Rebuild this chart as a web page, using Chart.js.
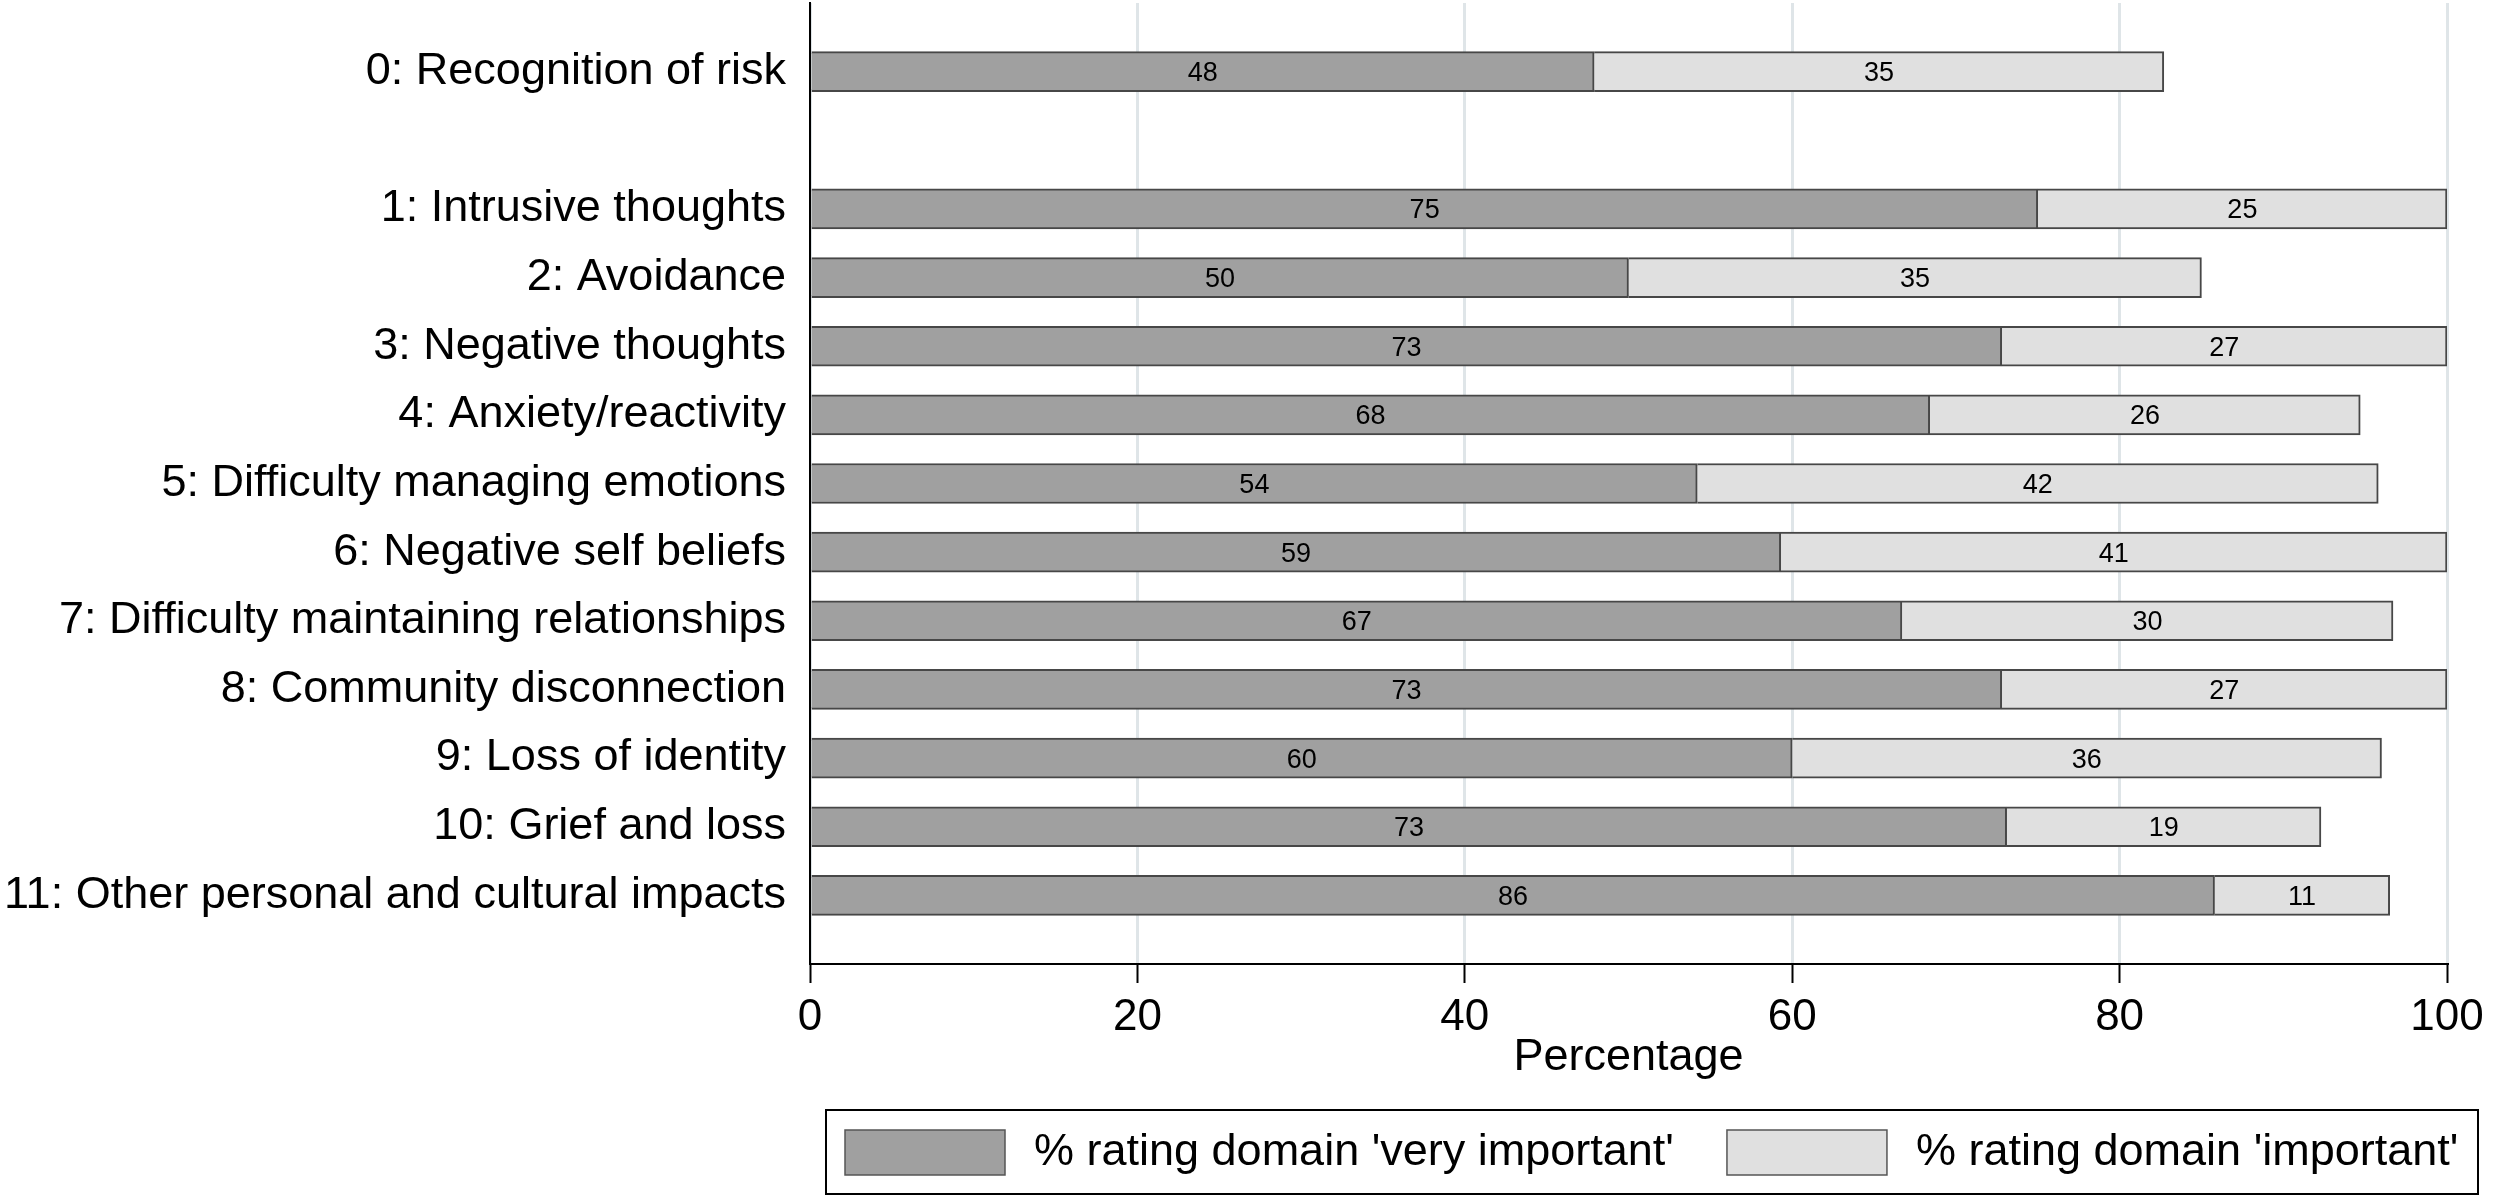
<!DOCTYPE html>
<html lang="en">
<head>
  <meta charset="UTF-8" />
  <title>Domains rated important</title>
  <style>
    html, body { margin: 0; padding: 0; background: #fff; }
    #chart { display: block; }
  </style>
</head>
<body>
  <canvas id="chart" width="2500" height="1198"></canvas>

  <script src="https://cdn.jsdelivr.net/npm/chart.js"></script>
  <script>
const domains = [
  '0: Recognition of risk',
  '1: Intrusive thoughts',
  '2: Avoidance',
  '3: Negative thoughts',
  '4: Anxiety/reactivity',
  '5: Difficulty managing emotions',
  '6: Negative self beliefs',
  '7: Difficulty maintaining relationships',
  '8: Community disconnection',
  '9: Loss of identity',
  '10: Grief and loss',
  '11: Other personal and cultural impacts'
];
const veryImportant = [47.9, 75.0, 50.0, 72.8, 68.4, 54.2, 59.3, 66.7, 72.8, 60.0, 73.1, 85.8];
const important = [34.8, 25.0, 35.0, 27.2, 26.3, 41.6, 40.7, 30.0, 27.2, 36.0, 19.2, 10.7];
const xTicks = [0, 20, 40, 60, 80, 100];
const seriesNames = ["% rating domain 'very important'", "% rating domain 'important'"];

const FONT = '"Liberation Sans", Arial, sans-serif';
Chart.defaults.font.family = FONT;

// blank rows: one above, one between domain 0 and 1, one below
function spaced(arr, blank) {
  return [blank, arr[0], blank, ...arr.slice(1), blank];
}

// value written in the middle of each segment
const barLabels = {
  id: 'barLabels',
  afterDatasetsDraw(chart) {
    const ctx = chart.ctx;
    ctx.save();
    ctx.font = '27px ' + FONT;
    ctx.fillStyle = '#000';
    ctx.textAlign = 'center';
    ctx.textBaseline = 'middle';
    chart.data.datasets.forEach((ds, i) => {
      chart.getDatasetMeta(i).data.forEach((bar, j) => {
        const v = ds.data[j];
        if (v == null) return;
        const p = bar.getCenterPoint();
        ctx.fillText(Math.round(v), p.x, p.y + 2);
      });
    });
    ctx.restore();
  }
};

// legend inside a framed box under the axis title
const boxedLegend = {
  id: 'boxedLegend',
  afterDraw(chart) {
    const ctx = chart.ctx;
    const left = 826, top = 1110, width = 1652, height = 84;
    const mid = top + height / 2;
    ctx.save();
    ctx.strokeStyle = '#000';
    ctx.lineWidth = 2;
    ctx.strokeRect(left, top, width, height);
    ctx.font = '45px ' + FONT;
    ctx.textBaseline = 'middle';
    let x = left + 19;
    chart.data.datasets.forEach(ds => {
      ctx.fillStyle = ds.backgroundColor;
      ctx.fillRect(x, mid - 22, 160, 45);
      ctx.strokeStyle = '#555';
      ctx.lineWidth = 1.5;
      ctx.strokeRect(x, mid - 22, 160, 45);
      x += 160 + 29;
      ctx.fillStyle = '#000';
      ctx.fillText(ds.label, x, mid + 1);
      x += ctx.measureText(ds.label).width + 53;
    });
    ctx.restore();
  }
};

new Chart(document.getElementById('chart'), {
  type: 'bar',
  data: {
    labels: spaced(domains, ''),
    datasets: [
      {
        label: seriesNames[0],
        data: spaced(veryImportant, null),
        backgroundColor: '#a0a0a0',
        borderColor: '#474747',
        borderWidth: 2,
        barThickness: 40
      },
      {
        label: seriesNames[1],
        data: spaced(important, null),
        backgroundColor: '#e0e0e0',
        borderColor: '#474747',
        borderWidth: 2,
        barThickness: 40
      }
    ]
  },
  options: {
    indexAxis: 'y',
    responsive: false,
    devicePixelRatio: 1,
    animation: false,
    layout: { padding: { top: 3, right: 53, bottom: 113, left: 3 } },
    plugins: {
      legend: { display: false },
      tooltip: { enabled: false }
    },
    scales: {
      x: {
        stacked: true,
        min: 0,
        max: 100,
        afterBuildTicks: s => { s.ticks = xTicks.map(v => ({ value: v })); },
        afterFit: s => { s.height = 121; },
        grid: { color: '#dfe5e8', lineWidth: 3, tickColor: '#000', tickWidth: 2, tickLength: 19 },
        border: { color: '#000', width: 2 },
        ticks: { color: '#000', font: { size: 44 }, padding: 8, maxRotation: 0 },
        title: { display: true, text: 'Percentage', color: '#000', font: { size: 45 }, padding: 0 }
      },
      y: {
        stacked: true,
        offset: false,
        afterFit: s => {
          s.width = 807;
          // end rows are blank, no room needed for their labels
          s.paddingTop = 0;
          s.paddingBottom = 0;
        },
        grid: { display: true, drawOnChartArea: false, drawTicks: false },
        border: { color: '#000', width: 2 },
        ticks: { color: '#000', font: { size: 45 }, padding: 24, autoSkip: false }
      }
    }
  },
  plugins: [barLabels, boxedLegend]
});
  </script>
</body>
</html>
